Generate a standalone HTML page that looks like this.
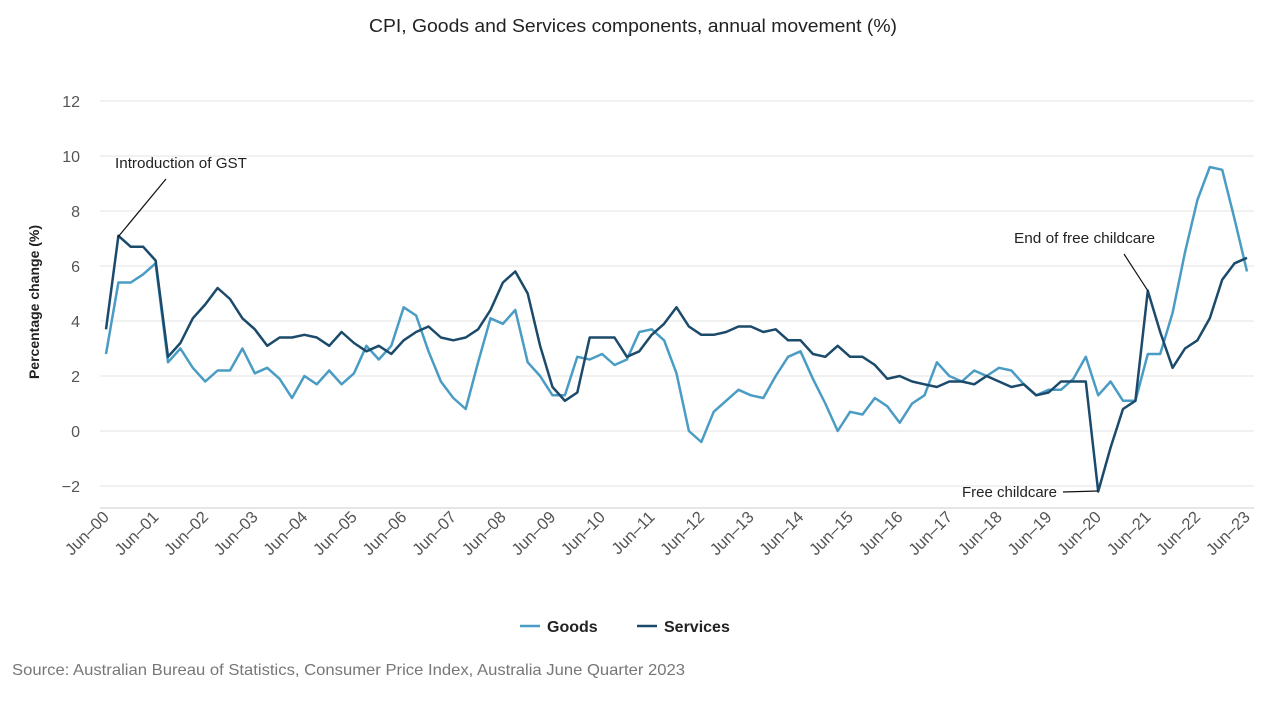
<!DOCTYPE html>
<html><head><meta charset="utf-8"><style>
body{margin:0;background:#fff;font-family:"Liberation Sans",sans-serif;}
svg text{font-family:"Liberation Sans",sans-serif;}
</style></head><body>
<svg id="chart" width="1266" height="703">
<text x="369" y="32" font-size="18.5" fill="#222" textLength="528" lengthAdjust="spacingAndGlyphs">CPI, Goods and Services components, annual movement (%)</text>
<text transform="translate(39,302) rotate(-90)" text-anchor="middle" font-size="14" fill="#222" font-weight="bold">Percentage change (%)</text>
<g id="grid"></g><g id="xlabels"></g><g id="series"></g>
<g>
<text x="115" y="168" font-size="15" fill="#222" textLength="132" lengthAdjust="spacingAndGlyphs">Introduction of GST</text>
<line x1="166" y1="179" x2="118" y2="237" stroke="#111" stroke-width="1.2"/>
<text x="1014" y="243" font-size="15" fill="#222" textLength="141" lengthAdjust="spacingAndGlyphs">End of free childcare</text>
<line x1="1124" y1="254" x2="1148" y2="291" stroke="#111" stroke-width="1.2"/>
<text x="962" y="497" font-size="15" fill="#222" textLength="95" lengthAdjust="spacingAndGlyphs">Free childcare</text>
<line x1="1063" y1="492" x2="1098" y2="491" stroke="#111" stroke-width="1.2"/>
</g>
<g>
<line x1="520" y1="626" x2="540" y2="626" stroke="#4a9cc4" stroke-width="2.5"/>
<text x="547" y="632" font-size="16" fill="#222" font-weight="bold">Goods</text>
<line x1="637" y1="626" x2="657" y2="626" stroke="#1b4a6b" stroke-width="2.5"/>
<text x="664" y="632" font-size="16" fill="#222" font-weight="bold">Services</text>
</g>
<text x="12" y="675" font-size="16" fill="#777" textLength="673" lengthAdjust="spacingAndGlyphs">Source: Australian Bureau of Statistics, Consumer Price Index, Australia June Quarter 2023</text>
</svg>
<script>
const yTicks=[-2,0,2,4,6,8,10,12];
const xLabels=["Jun-00","Jun-01","Jun-02","Jun-03","Jun-04","Jun-05","Jun-06","Jun-07","Jun-08","Jun-09","Jun-10","Jun-11","Jun-12","Jun-13","Jun-14","Jun-15","Jun-16","Jun-17","Jun-18","Jun-19","Jun-20","Jun-21","Jun-22","Jun-23"];
const goods=[2.8,5.4,5.4,5.7,6.1,2.5,3.0,2.3,1.8,2.2,2.2,3.0,2.1,2.3,1.9,1.2,2.0,1.7,2.2,1.7,2.1,3.1,2.6,3.1,4.5,4.2,2.9,1.8,1.2,0.8,2.5,4.1,3.9,4.4,2.5,2.0,1.3,1.3,2.7,2.6,2.8,2.4,2.6,3.6,3.7,3.3,2.1,0.0,-0.4,0.7,1.1,1.5,1.3,1.2,2.0,2.7,2.9,1.9,1.0,0.0,0.7,0.6,1.2,0.9,0.3,1.0,1.3,2.5,2.0,1.8,2.2,2.0,2.3,2.2,1.7,1.3,1.5,1.5,1.9,2.7,1.3,1.8,1.1,1.1,2.8,2.8,4.3,6.5,8.4,9.6,9.5,7.7,5.8];
const services=[3.7,7.1,6.7,6.7,6.2,2.7,3.2,4.1,4.6,5.2,4.8,4.1,3.7,3.1,3.4,3.4,3.5,3.4,3.1,3.6,3.2,2.9,3.1,2.8,3.3,3.6,3.8,3.4,3.3,3.4,3.7,4.4,5.4,5.8,5.0,3.1,1.6,1.1,1.4,3.4,3.4,3.4,2.7,2.9,3.5,3.9,4.5,3.8,3.5,3.5,3.6,3.8,3.8,3.6,3.7,3.3,3.3,2.8,2.7,3.1,2.7,2.7,2.4,1.9,2.0,1.8,1.7,1.6,1.8,1.8,1.7,2.0,1.8,1.6,1.7,1.3,1.4,1.8,1.8,1.8,-2.2,-0.6,0.8,1.1,5.1,3.6,2.3,3.0,3.3,4.1,5.5,6.1,6.3];
const NS="http://www.w3.org/2000/svg";
const x0=106,x1=1247,n=goods.length;
function xs(i){return x0+(x1-x0)*i/(n-1);}
function ys(v){return 431-v*27.5;}
const grid=document.getElementById('grid');
yTicks.forEach(t=>{
  const l=document.createElementNS(NS,'line');
  l.setAttribute('x1',100);l.setAttribute('x2',1254);l.setAttribute('y1',ys(t));l.setAttribute('y2',ys(t));
  l.setAttribute('stroke','#e3e3e3');l.setAttribute('stroke-width','1');
  
  
  grid.appendChild(l);
  const tx=document.createElementNS(NS,'text');
  tx.setAttribute('x',80);tx.setAttribute('y',ys(t)+6);tx.setAttribute('text-anchor','end');
  tx.setAttribute('font-size','16');tx.setAttribute('fill','#555');
  tx.textContent=t<0?'\u2212'+Math.abs(t):String(t);
  
  
  grid.appendChild(tx);
});
const ax=document.createElementNS(NS,'line');
ax.setAttribute('x1',100);ax.setAttribute('x2',1254);ax.setAttribute('y1',508);ax.setAttribute('y2',508);
ax.setAttribute('stroke','#ccc');


grid.appendChild(ax);
const xl=document.getElementById('xlabels');
xLabels.forEach((s,k)=>{
  const x=xs(k*4);
  const tx=document.createElementNS(NS,'text');
  tx.setAttribute('transform','translate('+(x+4)+',518) rotate(-45)');
  tx.setAttribute('text-anchor','end');tx.setAttribute('font-size','16.5');tx.setAttribute('fill','#555');
  tx.textContent=s.replace('-','\u2013');
  
  
  xl.appendChild(tx);
});
const sg=document.getElementById('series');
[[goods,'#4a9cc4','goods-line'],[services,'#1b4a6b','services-line']].forEach(([d,c,name])=>{
  const p=document.createElementNS(NS,'path');
  p.setAttribute('d',d.map((v,i)=>(i?'L':'M')+xs(i).toFixed(1)+' '+ys(v).toFixed(1)).join(' '));
  p.setAttribute('fill','none');p.setAttribute('stroke',c);p.setAttribute('stroke-width','2.5');
  p.setAttribute('stroke-linejoin','round');
  
  
  sg.appendChild(p);
});
</script>
</body></html>
